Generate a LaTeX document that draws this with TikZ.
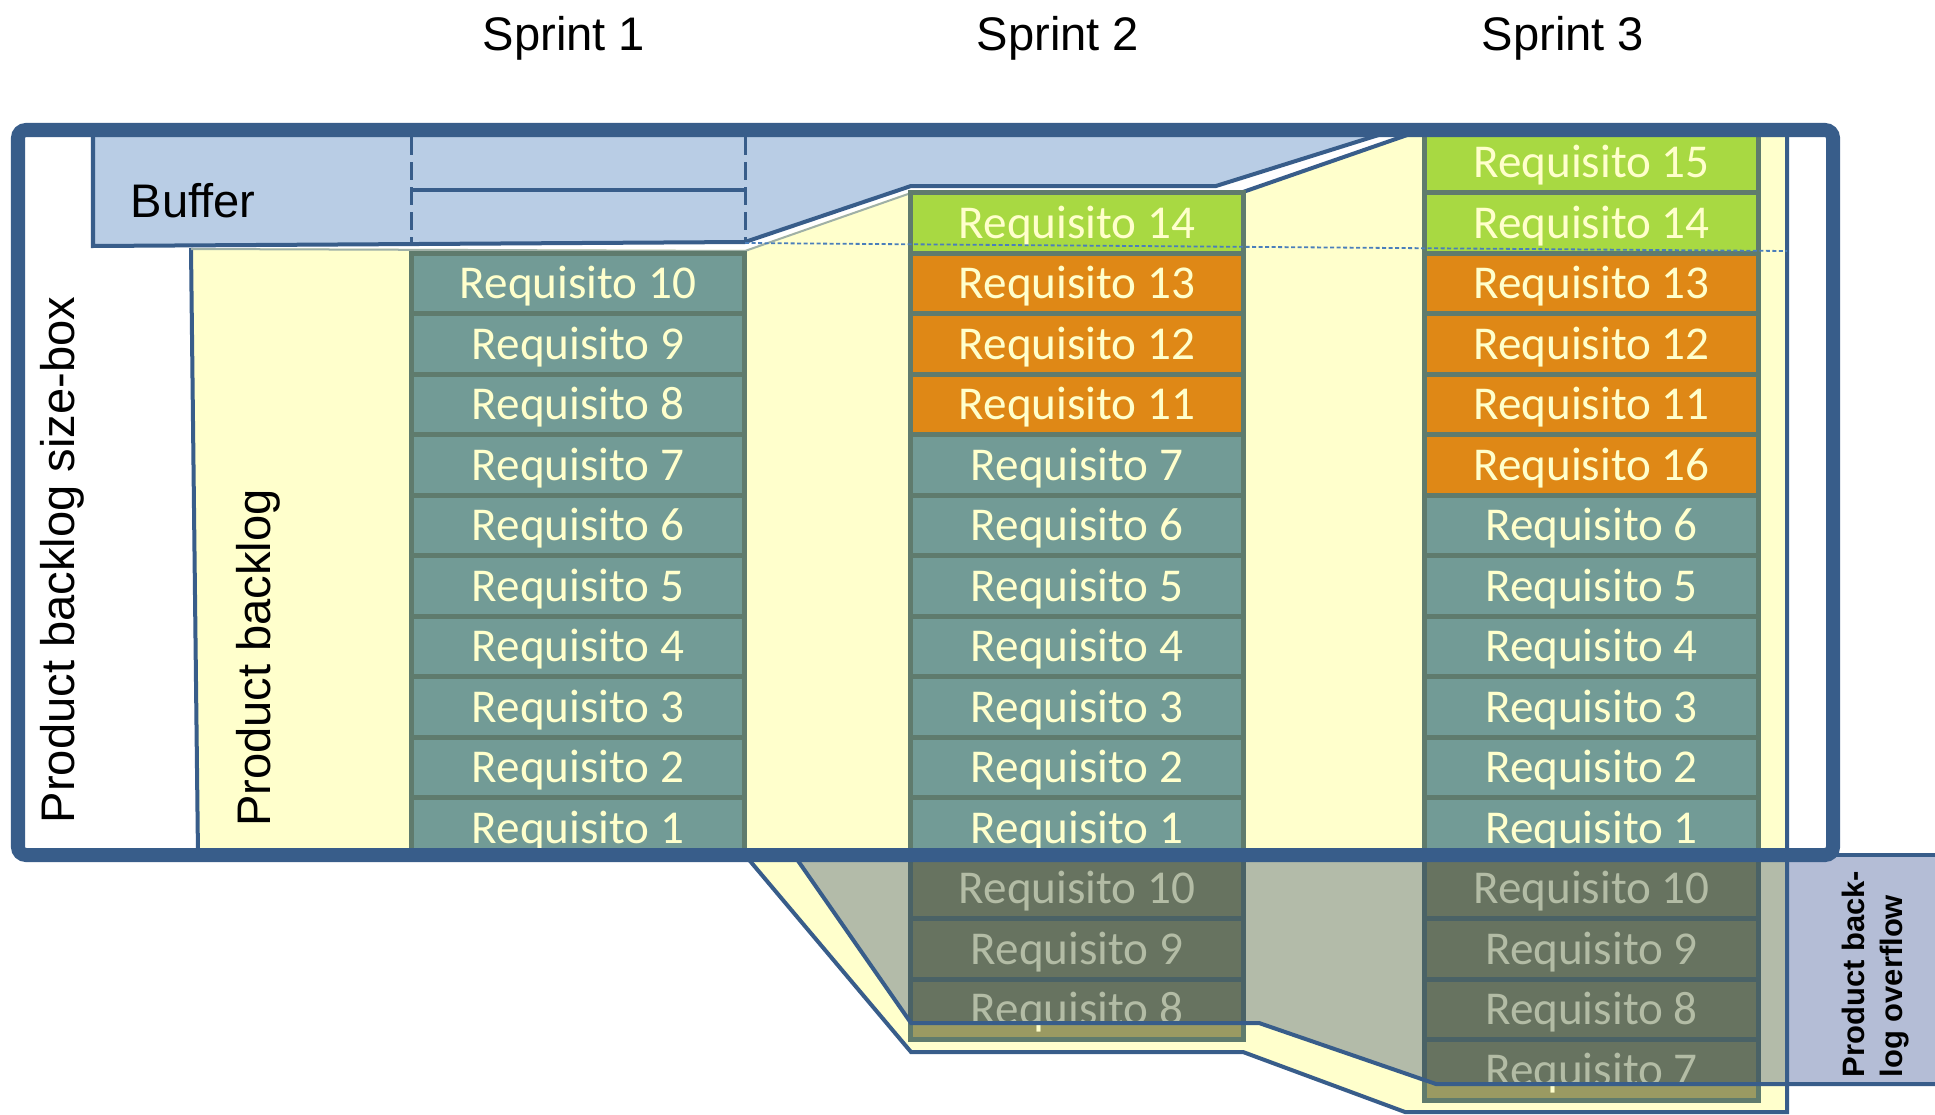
\documentclass[tikz,border=0pt]{standalone}
\usepackage{fontspec}
\setmainfont{Liberation Sans}
\newfontfamily\reqfont{Carlito}
\definecolor{cBdr}{HTML}{385D8A}
\definecolor{cBuf}{HTML}{B9CDE5}
\definecolor{cYel}{HTML}{FFFFCC}
\definecolor{cTeal}{HTML}{729B96}
\definecolor{cOrange}{HTML}{DF8816}
\definecolor{cGreen}{HTML}{A8D942}
\definecolor{cCellBdr}{HTML}{5F7B6D}
\definecolor{cDark}{HTML}{677360}
\definecolor{cDarkTxt}{HTML}{B3BCA5}
\definecolor{cDarkBdr}{HTML}{4A6266}
\definecolor{cOlive}{HTML}{9A9A62}
\definecolor{cOver}{HTML}{B3BBA9}
\definecolor{cLabel}{HTML}{B4BDD6}
\definecolor{cDot}{HTML}{4A7EBB}
\begin{document}
\begin{tikzpicture}[x=0.01cm,y=-0.01cm,
  reqcell/.style={draw=cCellBdr, line width=0.05cm, minimum width=3.33cm, minimum height=0.605cm,
    inner sep=0pt, outer sep=0pt, text height=8.6pt, text depth=0pt,
    font=\reqfont\fontsize{13.4}{16}\selectfont, text=cYel},
  ovcell/.style={reqcell, fill=cOlive},
  dkcell/.style={reqcell, draw=cDarkBdr, fill=cDark, text=cDarkTxt},
  lbl/.style={font=\fontsize{13.4}{16}\selectfont, inner sep=0pt},
  edge/.style={draw=cBdr, line width=0.04cm, line join=miter}
]
\useasboundingbox (0,0) rectangle (1935,1115);
\fill[white] (0,0) rectangle (1935,1115);

% product backlog (yellow)
\fill[cYel] (191,248) -- (745,250) -- (911,192) -- (1243,192) -- (1413,133) -- (1787,133)
  -- (1787,1112) -- (1405,1112) -- (1243,1052) -- (911,1052) -- (745,855) -- (198,855) -- cycle;
% overflow overlay
\fill[cOver] (794,855) -- (911,1023) -- (1259,1023) -- (1436,1084) -- (1935,1084) -- (1935,855) -- cycle;
\fill[cLabel] (1787,855) rectangle (1935,1084);
% yellow outline
\draw[edge] (1243,192) -- (1413,133) -- (1787,133) -- (1787,1112) -- (1405,1112) -- (1243,1052)
  -- (911,1052) -- (745,855);
\draw[edge] (198,855) -- (191,248);
\draw[cCellBdr!60, line width=0.02cm] (191,249) -- (745,251) -- (911,193) -- (1243,193);

% buffer
\filldraw[fill=cBuf, edge] (93,133) -- (93,246) -- (745,242) -- (911,186) -- (1216,186) -- (1385,133) -- cycle;
\draw[cBdr, line width=0.03cm, dash pattern=on 0.18cm off 0.07cm] (411,137) -- (411,242);
\draw[cBdr, line width=0.03cm, dash pattern=on 0.18cm off 0.07cm] (745,137) -- (745,242);
\draw[cBdr, line width=0.04cm] (411,190) -- (745,190);

% Sprint 1 column
\foreach \n in {1,...,10} {
  \node[reqcell, fill=cTeal] (a\n) at (578,{828-60.5*(\n-1)}) {Requisito \n};
}
% Sprint 2 column
\foreach \i/\lab/\col in {0/1/cTeal,1/2/cTeal,2/3/cTeal,3/4/cTeal,4/5/cTeal,5/6/cTeal,6/7/cTeal,
    7/11/cOrange,8/12/cOrange,9/13/cOrange,10/14/cGreen} {
  \node[reqcell, fill=\col] (b\lab) at (1077,{828-60.5*\i}) {Requisito \lab};
}
% Sprint 3 column
\foreach \i/\lab/\col in {0/1/cTeal,1/2/cTeal,2/3/cTeal,3/4/cTeal,4/5/cTeal,5/6/cTeal,
    6/16/cOrange,7/11/cOrange,8/12/cOrange,9/13/cOrange,10/14/cGreen,11/15/cGreen} {
  \node[reqcell, fill=\col] (c\lab) at (1591.5,{828-60.5*\i}) {Requisito \lab};
}
% overflow cells
\foreach \i/\lab in {1/10,2/9,3/8} {
  \node[ovcell] (bo\lab) at (1077,{828+60.5*\i}) {Requisito \lab};
}
\foreach \i/\lab in {1/10,2/9,3/8,4/7} {
  \node[ovcell] (co\lab) at (1591.5,{828+60.5*\i}) {Requisito \lab};
}
\begin{scope}
  \clip (794,855) -- (911,1023) -- (1259,1023) -- (1436,1084) -- (1935,1084) -- (1935,855) -- cycle;
  \foreach \i/\lab in {1/10,2/9,3/8} {
    \node[dkcell] (bd\lab) at (1077,{828+60.5*\i}) {Requisito \lab};
  }
  \foreach \i/\lab in {1/10,2/9,3/8,4/7} {
    \node[dkcell] (cd\lab) at (1591.5,{828+60.5*\i}) {Requisito \lab};
  }
\end{scope}
% overlay outline
\draw[edge] (794,855) -- (911,1023) -- (1259,1023) -- (1436,1084) -- (1935,1084);
\draw[edge] (1833,855) -- (1935,855);

% dotted buffer limit
\draw[cDot, line width=0.018cm, dash pattern=on 0.04cm off 0.025cm] (745,243) -- (1787,251);

% size box
\draw[cBdr, line width=0.14cm, rounded corners=0.08cm] (18,130) rectangle (1833,855);

% labels
\node[lbl, anchor=base] (sp1) at (564,51) {Sprint 1};
\node[lbl, anchor=base] (sp2) at (1058,51) {Sprint 2};
\node[lbl, anchor=base] (sp3) at (1563,51) {Sprint 3};
\node[lbl, anchor=base west] (buflbl) at (130,217) {Buffer};
\node[lbl, anchor=base, rotate=90] (pbs) at (74,560) {Product backlog size-box};
\node[lbl, anchor=base, rotate=90] (pb) at (270,658) {Product backlog};
\node[font=\bfseries\fontsize{8.8}{10.8}\selectfont, rotate=90, align=left, inner sep=0pt] (ovl)
  at (1876,974) {Product back-\\log overflow};
\end{tikzpicture}
\end{document}
